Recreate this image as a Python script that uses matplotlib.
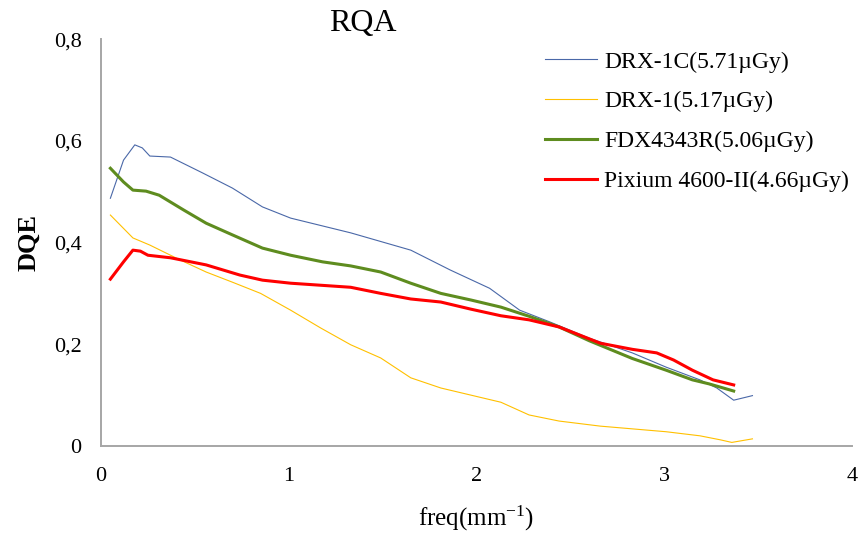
import matplotlib
matplotlib.use("Agg")
import matplotlib.pyplot as plt
from matplotlib.ticker import FuncFormatter

plt.rcParams["font.family"] = ["Liberation Serif", "DejaVu Serif"]
plt.rcParams["mathtext.fontset"] = "custom"
plt.rcParams["mathtext.rm"] = "Liberation Serif"
plt.rcParams["mathtext.it"] = "Liberation Serif:italic"

# ── données ───────────────────────────────────────────────────────────────────
drx1c_f = [0.05, 0.12, 0.18, 0.22, 0.26, 0.37, 0.54, 0.70, 0.86, 1.01, 1.33,
           1.65, 1.86, 2.07, 2.23, 2.39, 2.60, 2.83, 3.01, 3.19, 3.28, 3.37, 3.47]
drx1c_v = [0.487, 0.562, 0.592, 0.586, 0.57, 0.568, 0.537, 0.507, 0.47, 0.448,
           0.419, 0.385, 0.346, 0.31, 0.267, 0.244, 0.212, 0.183, 0.155, 0.13,
           0.114, 0.09, 0.099]

drx1_f = [0.05, 0.17, 0.26, 0.42, 0.56, 0.70, 0.85, 1.01, 1.17, 1.33, 1.49,
          1.65, 1.81, 1.97, 2.13, 2.28, 2.44, 2.66, 3.01, 3.19, 3.30, 3.36, 3.47]
drx1_v = [0.454, 0.409, 0.395, 0.366, 0.342, 0.322, 0.30, 0.267, 0.232, 0.199,
          0.173, 0.134, 0.114, 0.10, 0.086, 0.061, 0.049, 0.039, 0.028, 0.02,
          0.012, 0.007, 0.014]

fdx_f = [0.05, 0.12, 0.17, 0.24, 0.31, 0.44, 0.56, 0.70, 0.86, 1.01, 1.18, 1.33,
         1.49, 1.65, 1.81, 1.97, 2.13, 2.28, 2.44, 2.60, 2.83, 3.01, 3.15, 3.24,
         3.37]
fdx_v = [0.546, 0.519, 0.503, 0.501, 0.493, 0.464, 0.438, 0.415, 0.389, 0.375,
         0.362, 0.354, 0.342, 0.32, 0.30, 0.287, 0.273, 0.255, 0.234, 0.207,
         0.172, 0.149, 0.13, 0.122, 0.108]

pix_f = [0.05, 0.12, 0.17, 0.21, 0.25, 0.37, 0.56, 0.74, 0.86, 1.01, 1.33, 1.49,
         1.65, 1.81, 1.97, 2.13, 2.28, 2.44, 2.66, 2.83, 2.96, 3.05, 3.15, 3.26,
         3.37]
pix_v = [0.328, 0.362, 0.385, 0.383, 0.375, 0.37, 0.356, 0.336, 0.326, 0.32,
         0.312, 0.30, 0.289, 0.283, 0.269, 0.256, 0.248, 0.234, 0.202, 0.19,
         0.183, 0.169, 0.149, 0.13, 0.12]

labels = ["DRX-1C(5.71µGy)", "DRX-1(5.17µGy)", "FDX4343R(5.06µGy)",
          "Pixium 4600-II(4.66µGy)"]

# ── figure ────────────────────────────────────────────────────────────────────
fig = plt.figure(figsize=(8.61, 5.35), dpi=100)
ax = fig.add_axes([0.1173, 0.1664, 0.8722, 0.7606])

ax.plot(drx1c_f, drx1c_v, color="#4A68A8", lw=0.8, label=labels[0])
ax.plot(drx1_f, drx1_v, color="#FFC000", lw=0.8, label=labels[1])
ax.plot(fdx_f, fdx_v, color="#5E8C1F", lw=2.2, label=labels[2])
ax.plot(pix_f, pix_v, color="#FF0000", lw=2.2, label=labels[3])

ax.set_xlim(0, 4)
ax.set_ylim(0, 0.8)
ax.set_xticks([0, 1, 2, 3, 4])
ax.set_yticks([0, 0.2, 0.4, 0.6, 0.8])
ax.yaxis.set_major_formatter(FuncFormatter(lambda v, p: f"{v:g}".replace(".", ",")))
ax.tick_params(length=0, labelsize=16)
ax.tick_params(axis="x", pad=15)
ax.tick_params(axis="y", pad=14)

for s in ["top", "right"]:
    ax.spines[s].set_visible(False)
for s in ["left", "bottom"]:
    ax.spines[s].set_color("#A6A6A6")
    ax.spines[s].set_linewidth(1.4)

ax.set_ylabel("DQE", fontsize=19, fontweight="bold", labelpad=10)
ax.set_xlabel("freq(mm$^{-1}$)", fontsize=18, labelpad=13)
fig.text(363 / 861, 1 - 23 / 535, "RQA", fontsize=23, ha="center", va="center")

ax.legend(loc="upper left", bbox_to_anchor=(545 / 861, 1 - 51 / 535),
          bbox_transform=fig.transFigure, frameon=False, borderpad=0,
          borderaxespad=0, fontsize=17, handlelength=2.2,
          handletextpad=0.3, labelspacing=0.78)

fig.savefig("out.png", dpi=100)
